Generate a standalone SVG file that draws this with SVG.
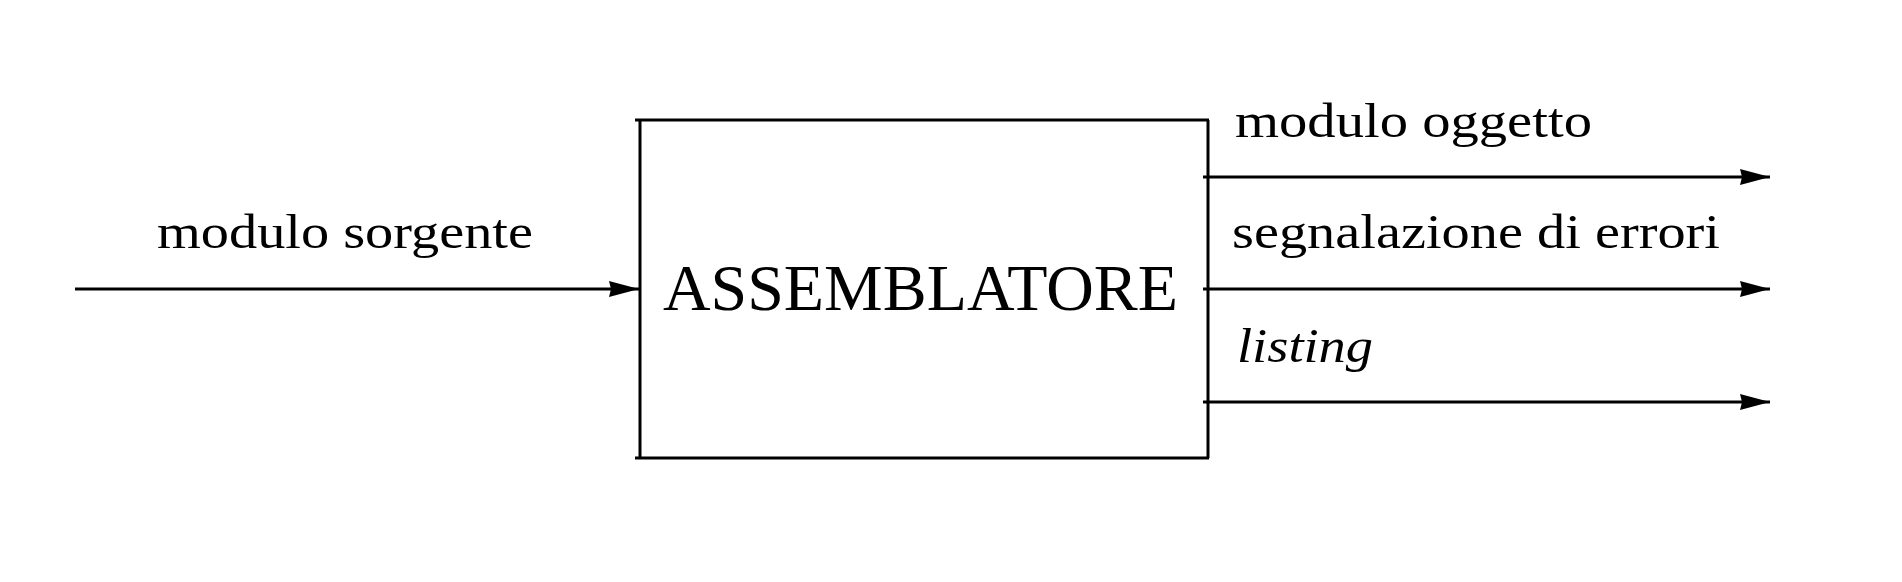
<svg xmlns="http://www.w3.org/2000/svg" width="1902" height="582" viewBox="0 0 1902 582">
<style>
.ln{stroke:#000;stroke-width:3;fill:none}
.t{font-family:"Liberation Serif","DejaVu Serif",serif;fill:#000}
</style>
<defs>
<marker id="ah" markerUnits="userSpaceOnUse" viewBox="-32 -9 34 18" refX="0" refY="0" markerWidth="34" markerHeight="18" orient="auto">
<path d="M0,0 L-30,-8 L-28,0 L-30,8 Z" fill="#000"/>
</marker>
</defs>
<rect width="1902" height="582" fill="#fff"/>
<g id="assemblatore">
<line class="ln" x1="635" y1="120" x2="1209" y2="120"/>
<line class="ln" x1="635" y1="458" x2="1209" y2="458"/>
<line class="ln" x1="640" y1="120" x2="640" y2="458"/>
<line class="ln" x1="1208" y1="120" x2="1208" y2="458"/>
<text class="t" x="663" y="310" font-size="66" textLength="515" lengthAdjust="spacingAndGlyphs">ASSEMBLATORE</text>
</g>
<g id="connectors">
<line class="ln" x1="75" y1="289" x2="639" y2="289" marker-end="url(#ah)"/>
<line class="ln" x1="1203" y1="177" x2="1770" y2="177" marker-end="url(#ah)"/>
<line class="ln" x1="1203" y1="289" x2="1770" y2="289" marker-end="url(#ah)"/>
<line class="ln" x1="1203" y1="402" x2="1770" y2="402" marker-end="url(#ah)"/>
</g>
<g id="labels">
<text class="t" x="157" y="248" font-size="49" textLength="376" lengthAdjust="spacingAndGlyphs">modulo sorgente</text>
<text class="t" x="1235" y="137" font-size="49" textLength="357" lengthAdjust="spacingAndGlyphs">modulo oggetto</text>
<text class="t" x="1232" y="248" font-size="49" textLength="488" lengthAdjust="spacingAndGlyphs">segnalazione di errori</text>
<text class="t" x="1237" y="362" font-size="49" font-style="italic" textLength="136" lengthAdjust="spacingAndGlyphs">listing</text>
</g>
</svg>
